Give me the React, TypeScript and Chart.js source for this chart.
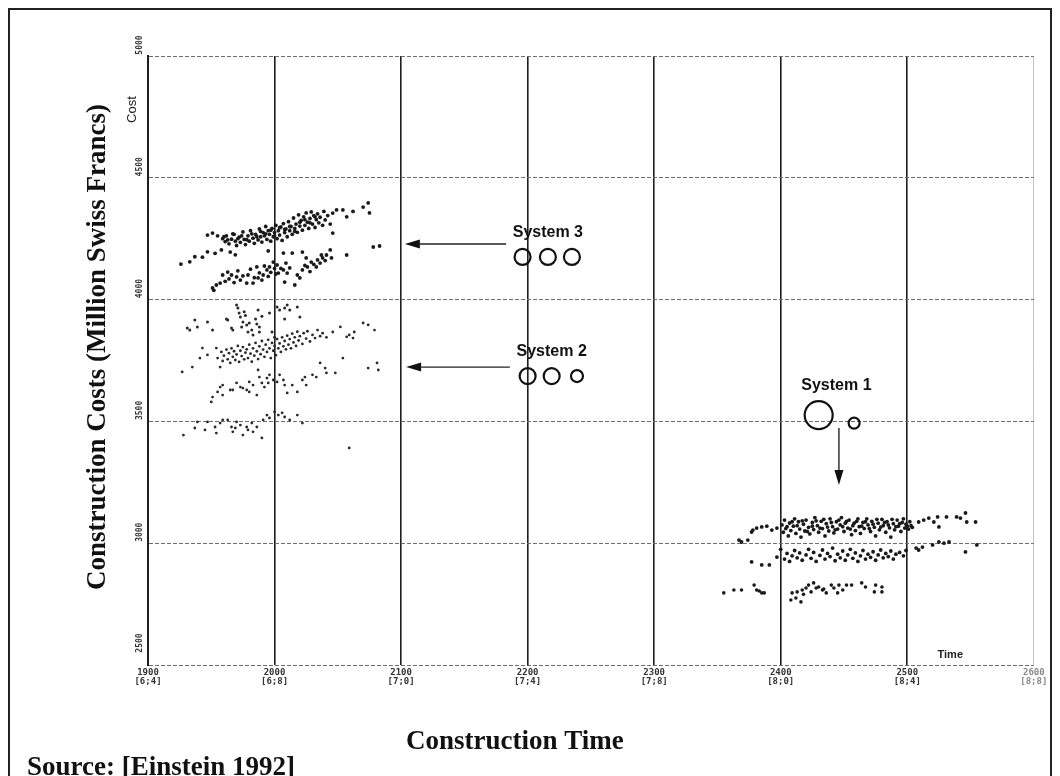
import React, { useEffect, useRef } from "react";
import { Chart, registerables } from "chart.js";

Chart.register(...registerables);

// ---------- axis ticks ----------
const xTickValues = [1900, 2000, 2100, 2200, 2300, 2400, 2500, 2600];
const xTickCodes = ["[6;4]", "[6;8]", "[7;0]", "[7;4]", "[7;8]", "[8;0]", "[8;4]", "[8;8]"];
const yTickValues = [2500, 3000, 3500, 4000, 4500, 5000];

// ---------- System 3 simulation results (time, cost) ----------
const system3Upper: number[][] = [
  [1926, 4146], [1933, 4155], [1937, 4176], [1943, 4174], [1947, 4196], [1953, 4190], [1958, 4204], [1965, 4195], [1969, 4184],
  [1947, 4265], [1951, 4273], [1955, 4262], [1959, 4250], [1961, 4238], [1962, 4262], [1964, 4229], [1966, 4248], [1967, 4270],
  [1969, 4240], [1970, 4222], [1972, 4256], [1973, 4235], [1975, 4278], [1976, 4247], [1977, 4226], [1979, 4262], [1980, 4240],
  [1981, 4283], [1983, 4252], [1984, 4231], [1985, 4268], [1987, 4245], [1988, 4290], [1989, 4258], [1990, 4236], [1991, 4275],
  [1992, 4262], [1993, 4300], [1994, 4247], [1995, 4283], [1996, 4268], [1997, 4240], [1998, 4292], [1999, 4258], [2000, 4275],
  [2001, 4305], [2002, 4250], [2003, 4283], [2004, 4265], [2005, 4298], [2006, 4243], [2007, 4312], [2008, 4275], [2009, 4290],
  [2010, 4258], [2011, 4320], [2012, 4283], [2013, 4300], [2014, 4268], [2015, 4335], [2016, 4292], [2017, 4310], [2018, 4276],
  [2019, 4348], [2020, 4302], [2021, 4325], [2022, 4285], [2023, 4340], [2024, 4305], [2025, 4356], [2026, 4318], [2027, 4292],
  [2028, 4333], [2029, 4360], [2030, 4310], [2031, 4345], [2032, 4296], [2033, 4328], [2034, 4352], [2035, 4315], [2036, 4338],
  [2038, 4305], [2039, 4362], [2040, 4327], [2042, 4345], [2044, 4310],
  [1960, 4258], [1963, 4245], [1968, 4268], [1971, 4250], [1974, 4262], [1978, 4246], [1982, 4270], [1986, 4258], [1989, 4280],
  [1993, 4270], [1997, 4285], [2000, 4262], [2004, 4295], [2008, 4288], [2012, 4300], [2016, 4280], [2020, 4318], [2024, 4328],
  [2028, 4315], [2032, 4340],
  [2046, 4355], [2049, 4368], [2054, 4368], [2057, 4340], [2062, 4362], [2070, 4380], [2074, 4397], [2075, 4356], [2078, 4216],
  [2083, 4220], [2046, 4273], [2057, 4183], [2007, 4191], [2022, 4195], [1995, 4200],
];
const system3Lower: number[][] = [
  [1951, 4048], [1952, 4038], [1954, 4060], [1957, 4068], [1959, 4101], [1961, 4075], [1963, 4113], [1964, 4085], [1966, 4101],
  [1968, 4070], [1970, 4093], [1971, 4118], [1973, 4080], [1975, 4097], [1978, 4068], [1979, 4101], [1981, 4125], [1983, 4068],
  [1984, 4090], [1986, 4134], [1987, 4089], [1988, 4110], [1990, 4080], [1991, 4101], [1992, 4138], [1994, 4122], [1995, 4095],
  [1996, 4134], [1997, 4112], [1999, 4154], [2000, 4128], [2001, 4105], [2002, 4142], [2003, 4109], [2005, 4128], [2007, 4122],
  [2008, 4072], [2009, 4150], [2010, 4109], [2012, 4130], [2014, 4191], [2016, 4060], [2018, 4101], [2020, 4089], [2022, 4122],
  [2024, 4140], [2025, 4171], [2026, 4134], [2028, 4115], [2029, 4154], [2031, 4145], [2033, 4134], [2034, 4163], [2036, 4150],
  [2037, 4183], [2038, 4171], [2040, 4160], [2041, 4183], [2044, 4204], [2045, 4171],
];

// ---------- System 2 simulation results ----------
const system2Top: number[][] = [
  [1931, 3883], [1933, 3875], [1937, 3916], [1939, 3888], [1947, 3908], [1951, 3875], [1962, 3920], [1963, 3916], [1966, 3883],
  [1967, 3875], [1970, 3978], [1971, 3966], [1972, 3945], [1973, 3929], [1974, 3888], [1975, 3908], [1976, 3950], [1977, 3935],
  [1978, 3896], [1979, 3867], [1980, 3904], [1982, 3875], [1983, 3855], [1985, 3920], [1986, 3900], [1987, 3957], [1988, 3888],
  [1988, 3867], [1990, 3932], [1996, 3945], [1998, 3867], [2002, 3970], [2004, 3957], [2008, 3966], [2010, 3978], [2012, 3957],
  [2018, 3970], [2020, 3929], [2008, 3920], [2000, 3845],
];
const system2Main: number[][] = [
  [1927, 3703], [1935, 3723], [1941, 3760], [1943, 3801], [1947, 3773], [1954, 3801], [1955, 3760], [1957, 3723], [1958, 3785],
  [1959, 3748], [1960, 3770], [1962, 3795], [1963, 3755], [1964, 3780], [1965, 3740], [1966, 3800], [1967, 3765], [1968, 3788],
  [1969, 3752], [1970, 3775], [1971, 3810], [1972, 3744], [1973, 3790], [1974, 3768], [1975, 3805], [1976, 3755], [1977, 3782],
  [1978, 3796], [1979, 3760], [1980, 3815], [1981, 3778], [1982, 3745], [1983, 3800], [1984, 3770], [1985, 3822], [1986, 3788],
  [1987, 3756], [1988, 3808], [1989, 3776], [1990, 3830], [1991, 3795], [1992, 3765], [1993, 3815], [1994, 3785], [1995, 3835],
  [1996, 3800], [1997, 3760], [1998, 3822], [1999, 3790], [2000, 3810], [2001, 3772], [2002, 3838], [2003, 3800], [2004, 3820],
  [2005, 3785], [2006, 3845], [2007, 3808], [2008, 3830], [2009, 3796], [2010, 3852], [2011, 3815], [2012, 3838], [2013, 3800],
  [2014, 3860], [2015, 3824], [2016, 3845], [2017, 3810], [2018, 3868], [2019, 3832], [2020, 3850], [2022, 3818], [2023, 3862],
  [2025, 3840], [2026, 3870], [2028, 3828], [2030, 3855], [2032, 3842], [2034, 3875], [2036, 3850], [2038, 3862], [2041, 3845],
  [2046, 3867], [2052, 3888], [2054, 3760], [2057, 3847], [2059, 3855], [2062, 3842], [2063, 3867], [2070, 3904], [2074, 3896],
  [2079, 3875], [2074, 3719], [2081, 3740], [2082, 3711], [2048, 3699],
];
const system2Mid: number[][] = [
  [1950, 3580], [1951, 3600], [1955, 3621], [1957, 3641], [1959, 3649], [1959, 3608], [1965, 3629], [1967, 3629], [1970, 3658],
  [1973, 3641], [1975, 3637], [1978, 3629], [1980, 3662], [1980, 3621], [1983, 3649], [1986, 3608], [1987, 3711], [1988, 3682],
  [1990, 3658], [1992, 3641], [1994, 3678], [1995, 3658], [1996, 3691], [1999, 3670], [2002, 3662], [2004, 3691], [2007, 3670],
  [2008, 3649], [2010, 3617], [2014, 3649], [2018, 3621], [2022, 3670], [2024, 3682], [2025, 3649], [2030, 3691], [2033, 3682],
  [2036, 3740], [2040, 3719], [2041, 3699],
];
const system2Low: number[][] = [
  [1928, 3444], [1937, 3473], [1939, 3498], [1945, 3465], [1947, 3498], [1953, 3477], [1954, 3452], [1957, 3493], [1959, 3506],
  [1963, 3506], [1966, 3477], [1969, 3473], [1970, 3498], [1973, 3485], [1975, 3444], [1978, 3477], [1979, 3465], [1982, 3493],
  [1983, 3457], [1986, 3477], [1990, 3432], [1991, 3506], [1994, 3526], [1996, 3514], [2000, 3539], [2003, 3526], [2006, 3535],
  [2008, 3518], [2012, 3506], [2018, 3526], [2022, 3493], [1967, 3457], [2059, 3391],
];

// ---------- System 1 simulation results ----------
const system1Top: number[][] = [
  [2367, 3013], [2374, 3013], [2377, 3046], [2378, 3054], [2381, 3062], [2385, 3067], [2389, 3070], [2393, 3054], [2397, 3062],
  [2401, 3075], [2402, 3045], [2403, 3095], [2404, 3060], [2406, 3030], [2407, 3083], [2408, 3052], [2410, 3070], [2411, 3100],
  [2412, 3040], [2414, 3088], [2415, 3058], [2416, 3025], [2418, 3078], [2419, 3050], [2420, 3095], [2422, 3065], [2423, 3038],
  [2425, 3085], [2426, 3056], [2427, 3105], [2429, 3072], [2430, 3045], [2432, 3090], [2433, 3060], [2435, 3030], [2436, 3080],
  [2438, 3050], [2439, 3100], [2441, 3068], [2442, 3042], [2444, 3088], [2445, 3058], [2447, 3075], [2448, 3105], [2450, 3048],
  [2451, 3082], [2453, 3062], [2454, 3095], [2456, 3035], [2457, 3072], [2459, 3052], [2460, 3090], [2462, 3068], [2463, 3040],
  [2465, 3085], [2466, 3060], [2468, 3100], [2469, 3075], [2471, 3048], [2472, 3090], [2474, 3065], [2475, 3030], [2477, 3082],
  [2478, 3055], [2480, 3098], [2481, 3072], [2483, 3045], [2484, 3088], [2486, 3063], [2487, 3025], [2489, 3080], [2490, 3055],
  [2492, 3095], [2493, 3070], [2495, 3048], [2496, 3085], [2498, 3062], [2499, 3078], [2501, 3058], [2503, 3072], [2504, 3065],
  [2405, 3068], [2409, 3088], [2413, 3072], [2417, 3092], [2421, 3048], [2425, 3070], [2428, 3092], [2431, 3062], [2434, 3098],
  [2437, 3066], [2440, 3085], [2443, 3055], [2446, 3095], [2449, 3068], [2452, 3090], [2455, 3058], [2458, 3082], [2461, 3100],
  [2464, 3070], [2467, 3088], [2470, 3060], [2473, 3078], [2476, 3098], [2479, 3066], [2482, 3085], [2485, 3075], [2488, 3098],
  [2491, 3068], [2494, 3080], [2497, 3100], [2500, 3070], [2502, 3088],
  [2509, 3087], [2513, 3095], [2517, 3103], [2521, 3087], [2524, 3108], [2525, 3067], [2531, 3108], [2539, 3108], [2542, 3103],
  [2546, 3124], [2547, 3087], [2554, 3087],
];
const system1Mid: number[][] = [
  [2377, 2923], [2385, 2911], [2391, 2911], [2397, 2943], [2400, 2975], [2403, 2935], [2405, 2958], [2407, 2925], [2409, 2948],
  [2411, 2970], [2413, 2940], [2415, 2960], [2417, 2930], [2420, 2952], [2422, 2975], [2424, 2938], [2426, 2962], [2428, 2925],
  [2431, 2950], [2433, 2972], [2435, 2935], [2437, 2958], [2439, 2945], [2441, 2980], [2443, 2928], [2445, 2955], [2447, 2940],
  [2449, 2968], [2451, 2930], [2453, 2952], [2455, 2975], [2457, 2938], [2459, 2960], [2461, 2925], [2463, 2948], [2465, 2970],
  [2467, 2935], [2469, 2955], [2471, 2942], [2473, 2965], [2475, 2930], [2477, 2952], [2479, 2972], [2481, 2940], [2483, 2958],
  [2485, 2945], [2487, 2968], [2489, 2935], [2491, 2955], [2494, 2962], [2497, 2948], [2499, 2970],
  [2509, 2972], [2507, 2980], [2512, 2984], [2520, 2993], [2525, 3005], [2533, 3005], [2546, 2964], [2555, 2993], [2369, 3005],
  [2529, 3000],
];
const system1Low: number[][] = [
  [2355, 2796], [2363, 2808], [2369, 2808], [2379, 2828], [2381, 2808], [2385, 2796], [2387, 2796], [2383, 2804],
  [2408, 2767], [2409, 2796], [2412, 2775], [2413, 2800], [2416, 2759], [2417, 2808], [2420, 2816], [2422, 2828], [2424, 2800],
  [2426, 2837], [2428, 2816], [2430, 2820], [2433, 2808], [2436, 2796], [2440, 2828], [2442, 2816], [2445, 2796], [2446, 2828],
  [2449, 2808], [2452, 2828], [2456, 2828], [2464, 2837], [2467, 2820], [2474, 2800], [2475, 2828], [2480, 2820], [2480, 2800],
  [2418, 2790], [2434, 2812],
];

// ---------- annotation anchors (data coordinates) ----------
const systemLabels = ["System 3", "System 2", "System 1"];
const systemLabelX = [2216, 2219, 2444];
const systemLabelY = [4277, 3785, 3645];
const circleX = [2196, 2216, 2235, 2200, 2219, 2239, 2430, 2458];
const circleY = [4175, 4175, 4175, 3686, 3686, 3686, 3526, 3493];
const circleRadii = [8, 8, 8, 8, 8, 6, 14, 5.5];
const arrowFrom = [[2183, 4228], [2186, 3723], [2446, 3473]];
const arrowTo = [[2103, 4228], [2104, 3723], [2446, 3239]];

const toPts = (arr: number[][]) => arr.map(([x, y]) => ({ x, y }));

const annotate = {
  id: "annotate",
  afterDatasetsDraw(chart: any) {
    const { ctx, chartArea } = chart;
    const xs = chart.scales.x;
    const ys = chart.scales.y;
    ctx.save();

    // y tick labels (rotated, sitting just above grid line)
    ctx.fillStyle = "#333";
    ctx.font = 'bold 8px "DejaVu Sans Mono"';
    ctx.textAlign = "center";
    ctx.textBaseline = "middle";
    yTickValues.forEach((v) => {
      const py = ys.getPixelForValue(v);
      ctx.save();
      ctx.translate(chartArea.left - 8, py - (v === 2500 ? 22 : 11));
      ctx.rotate(-Math.PI / 2);
      ctx.fillText(String(v), 0, 0);
      ctx.restore();
    });

    // x tick labels (two lines)
    ctx.font = 'bold 9px "DejaVu Sans Mono"';
    xTickValues.forEach((v, i) => {
      const px = xs.getPixelForValue(v);
      ctx.fillStyle = v === 2600 ? "#888" : "#333";
      ctx.fillText(String(v), px, chartArea.bottom + 8);
      ctx.fillText(xTickCodes[i], px, chartArea.bottom + 17);
    });

    // small axis names inside
    ctx.fillStyle = "#222";
    ctx.font = '13px "Liberation Sans"';
    ctx.save();
    ctx.translate(chartArea.left - 16, ys.getPixelForValue(4780));
    ctx.rotate(-Math.PI / 2);
    ctx.fillText("Cost", 0, 0);
    ctx.restore();
    ctx.font = 'bold 11px "Liberation Sans"';
    ctx.fillText("Time", xs.getPixelForValue(2534), chartArea.bottom - 10);

    // system labels
    ctx.fillStyle = "#111";
    ctx.font = 'bold 16px "Liberation Sans"';
    systemLabels.forEach((t, i) => {
      ctx.fillText(t, xs.getPixelForValue(systemLabelX[i]), ys.getPixelForValue(systemLabelY[i]));
    });

    // arrows
    ctx.strokeStyle = "#222";
    ctx.fillStyle = "#111";
    ctx.lineWidth = 1.4;
    arrowFrom.forEach((f, i) => {
      const x1 = xs.getPixelForValue(f[0]);
      const y1 = ys.getPixelForValue(f[1]);
      const x2 = xs.getPixelForValue(arrowTo[i][0]);
      const y2 = ys.getPixelForValue(arrowTo[i][1]);
      const ang = Math.atan2(y2 - y1, x2 - x1);
      const len = 15;
      const hw = 4.5;
      const bx = x2 - Math.cos(ang) * len;
      const by = y2 - Math.sin(ang) * len;
      ctx.beginPath();
      ctx.moveTo(x1, y1);
      ctx.lineTo(bx, by);
      ctx.stroke();
      ctx.beginPath();
      ctx.moveTo(x2, y2);
      ctx.lineTo(bx - Math.sin(ang) * hw, by + Math.cos(ang) * hw);
      ctx.lineTo(bx + Math.sin(ang) * hw, by - Math.cos(ang) * hw);
      ctx.closePath();
      ctx.fill();
    });

    ctx.restore();
  },
  afterDraw(chart: any) {
    const { ctx, chartArea } = chart;
    ctx.save();
    ctx.fillStyle = "#111";
    ctx.font = 'bold 27px "Liberation Serif"';
    ctx.textAlign = "center";
    ctx.textBaseline = "middle";
    ctx.save();
    ctx.translate(88, 337);
    ctx.rotate(-Math.PI / 2);
    ctx.fillText("Construction Costs (Million Swiss Francs)", 0, 0);
    ctx.restore();
    ctx.textBaseline = "alphabetic";
    ctx.fillText("Construction Time", (chartArea.left + chartArea.right) / 2 - 76, 739);
    ctx.textAlign = "left";
    ctx.fillText("Source: [Einstein 1992]", 17, 765);
    ctx.restore();
  },
};

export default function App() {
  const ref = useRef<HTMLCanvasElement | null>(null);

  useEffect(() => {
    if (!ref.current) return;
    const dotStyle = (data: number[][], r: number, color: string) => ({
      data: toPts(data),
      pointRadius: r,
      pointBackgroundColor: color,
      pointBorderWidth: 0,
      showLine: false,
    });
    const chart = new Chart(ref.current, {
      type: "scatter",
      data: {
        datasets: [
          dotStyle(system3Upper, 1.9, "#1a1a1a"),
          dotStyle(system3Lower, 1.9, "#1a1a1a"),
          dotStyle(system2Top, 1.5, "#2a2a2a"),
          dotStyle(system2Main, 1.4, "#2a2a2a"),
          dotStyle(system2Mid, 1.4, "#2a2a2a"),
          dotStyle(system2Low, 1.4, "#2a2a2a"),
          dotStyle(system1Top, 1.9, "#1a1a1a"),
          dotStyle(system1Mid, 1.9, "#1a1a1a"),
          dotStyle(system1Low, 1.8, "#1a1a1a"),
          {
            data: circleX.map((x, i) => ({ x, y: circleY[i] })),
            pointRadius: circleRadii,
            pointBackgroundColor: "rgba(0,0,0,0)",
            pointBorderColor: "#111",
            pointBorderWidth: 2.2,
            showLine: false,
          },
        ] as any,
      },
      options: {
        animation: false,
        responsive: false,
        events: [],
        layout: { padding: { left: 138, right: 15, top: 46, bottom: 111 } },
        plugins: { legend: { display: false }, tooltip: { enabled: false } },
        scales: {
          x: {
            type: "linear",
            min: 1900,
            max: 2600,
            ticks: { display: false, stepSize: 100 },
            grid: {
              drawTicks: false,
              color: (c: any) => (c.tick && c.tick.value === 2600 ? "#c4c4c4" : "#1e1e1e"),
              lineWidth: (c: any) => (c.tick && c.tick.value === 2600 ? 1 : 1.6),
            },
            border: { display: false },
          },
          y: {
            type: "linear",
            min: 2500,
            max: 5000,
            ticks: { display: false, stepSize: 500 },
            grid: { drawTicks: false, color: "#6e6e6e", lineWidth: 1 },
            border: { display: true, color: "#1e1e1e", width: 2, dash: [4, 2] },
          },
        },
      } as any,
      plugins: [annotate],
    });
    return () => chart.destroy();
  }, []);

  return (
    <div
      style={{
        width: 1044,
        height: 768,
        boxSizing: "border-box",
        borderTop: "2px solid #222",
        borderLeft: "2px solid #222",
        borderRight: "2px solid #222",
        background: "#fff",
        overflow: "hidden",
      }}
    >
      <canvas ref={ref} width={1040} height={766} style={{ display: "block", width: 1040, height: 766 }} />
    </div>
  );
}
